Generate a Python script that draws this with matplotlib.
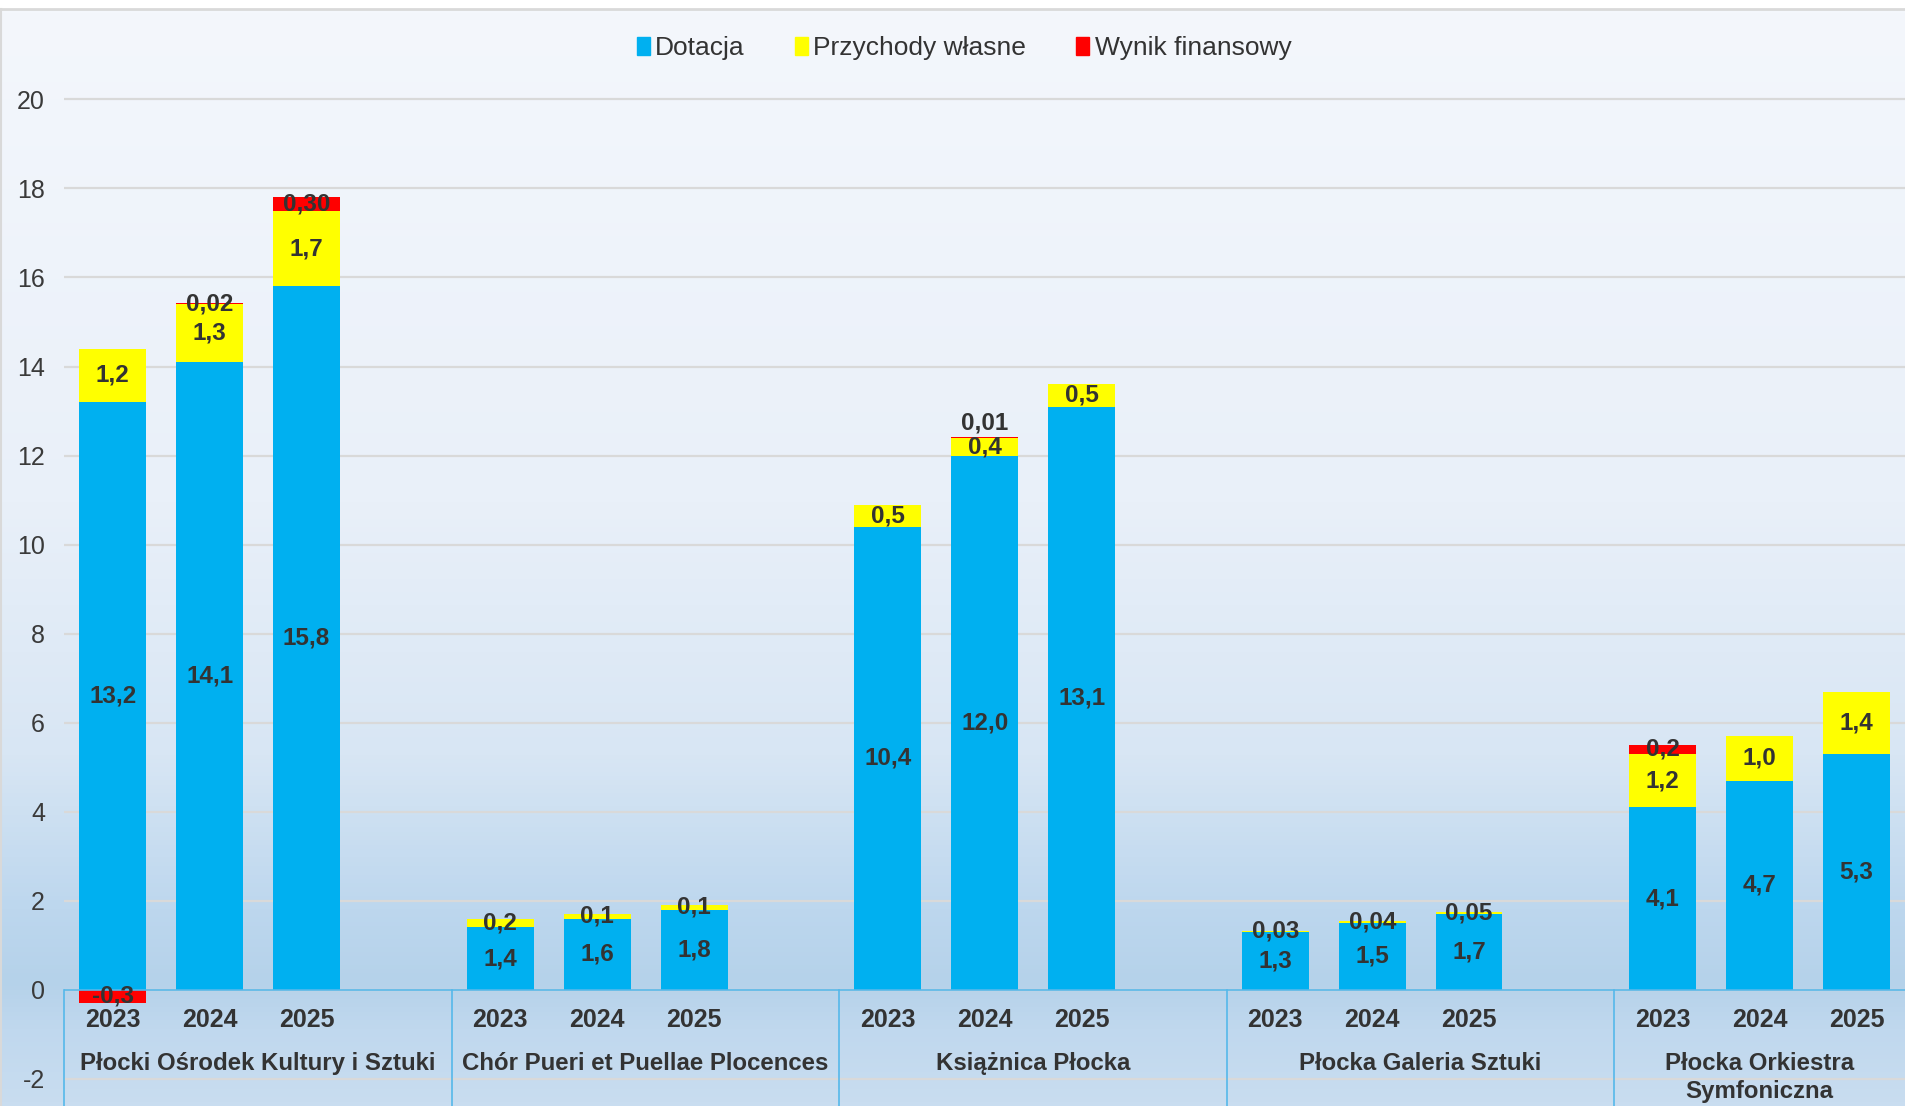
import numpy as np
import matplotlib
matplotlib.use("Agg")
import matplotlib.pyplot as plt
from matplotlib.patches import Patch
from matplotlib.colors import LinearSegmentedColormap

plt.rcParams['font.family'] = ['Liberation Sans', 'DejaVu Sans']
plt.rcParams['axes.unicode_minus'] = False

# data (mln zł)
groups = ["Płocki Ośrodek Kultury i Sztuki", "Chór Pueri et Puellae Plocences",
          "Książnica Płocka", "Płocka Galeria Sztuki", "Płocka Orkiestra\nSymfoniczna"]
years = ["2023", "2024", "2025"]
dotacja = [13.2, 14.1, 15.8, 1.4, 1.6, 1.8, 10.4, 12.0, 13.1, 1.3, 1.5, 1.7, 4.1, 4.7, 5.3]
przychody = [1.2, 1.3, 1.7, 0.2, 0.1, 0.1, 0.5, 0.4, 0.5, 0.03, 0.04, 0.05, 1.2, 1.0, 1.4]
wynik = [-0.3, 0.02, 0.30, 0, 0, 0, 0, 0.01, 0, 0, 0, 0, 0.2, 0, 0]
wynik_labels = ["-0,3", "0,02", "0,30", "", "", "", "", "0,01", "", "", "", "", "0,2", "", ""]
label_nudge = {7: 0.33}   # Excel pushed the tiny 0,01 label above the bar

C_BLUE, C_YEL, C_RED = "#00b0f0", "#ffff00", "#ff0000"
TXT = "#333333"
W, H = 1905, 1106


def fmt(v):
    return (f"{v:.2f}" if abs(v) < 0.1 else f"{v:.1f}").replace(".", ",")


fig = plt.figure(figsize=(W / 100, H / 100), dpi=100)
fig.patch.set_facecolor("white")

# gradient background
bg = fig.add_axes([0, 0, 1, 1 - 9 / H])
cmap = LinearSegmentedColormap.from_list("bg", [
    (0.0, "#f4f7fc"), (0.45, "#e9f0f9"), (0.68, "#d8e6f4"),
    (0.82, "#bdd7ee"), (0.89, "#b5d2ea"), (0.93, "#c0d8ee"), (1.0, "#c9ddf0")])
bg.imshow(np.linspace(0, 1, 256)[:, None], aspect="auto", cmap=cmap,
          extent=[0, 1, 0, 1], origin="upper")
bg.set_xlim(0, 1)
bg.set_ylim(0, 1)
bg.axis("off")
fig.add_artist(plt.Line2D([0, 1], [1 - 9 / H, 1 - 9 / H], color="#d9d9d9", lw=2))
fig.add_artist(plt.Line2D([0.5 / W, 0.5 / W], [0, 1 - 9 / H], color="#d9d9d9", lw=1.5))

ymin, ymax = -2.61, 20.2
unit = (990 - 99.6) / 20
ax_h = (ymax - ymin) * unit / H
left = 64.4 / W
ax = fig.add_axes([left, 0, 1 - left, ax_h])
ax.patch.set_alpha(0)

# 4 slots per group (3 bars + gap); the last group's gap is cut off by the plot edge
n_slots = 4 * len(groups) - 1
x = np.array([4 * g + i + 0.5 for g in range(len(groups)) for i in range(len(years))])
bw = 0.69

dot = np.array(dotacja)
prz = np.array(przychody)
wyn = np.array(wynik)
red_bottom = np.where(wyn >= 0, dot + prz, 0)

ax.bar(x, dot, bw, color=C_BLUE, zorder=3)
ax.bar(x, prz, bw, bottom=dot, color=C_YEL, zorder=3)
ax.bar(x, wyn, bw, bottom=red_bottom, color=C_RED, zorder=3)

lab_kw = dict(ha="center", va="center", fontsize=17.5, fontweight="bold", color=TXT, zorder=5)
for k in range(len(x)):
    ax.text(x[k], dot[k] / 2, fmt(dot[k]), **lab_kw)
    ax.text(x[k], dot[k] + prz[k] / 2, fmt(prz[k]), **lab_kw)
    if wynik_labels[k]:
        yc = red_bottom[k] + wyn[k] / 2 + label_nudge.get(k, 0)
        ax.text(x[k], yc, wynik_labels[k], **lab_kw)

ax.set_xlim(0, n_slots)
ax.set_ylim(ymin, ymax)
ax.set_yticks(np.arange(-2, 21, 2))
ax.yaxis.grid(True, color="#d9d9d9", lw=1.6, zorder=0)
ax.tick_params(axis="y", length=0, pad=14, labelsize=18, labelcolor="#3a3a3a")
ax.set_xticks([])
for s in ax.spines.values():
    s.set_visible(False)

# category axis
ax.axhline(0, color="#55b8ea", lw=1.2, zorder=4)
for g in range(len(groups)):
    g0 = 4 * g
    g1 = min(g0 + 4, n_slots)
    ax.plot([g0, g0], [ymin, 0], color="#55b8ea", lw=1.2, zorder=4, clip_on=False)
    for i, yr in enumerate(years):
        ax.text(g0 + i + 0.5, -0.68, yr, ha="center", va="center",
                fontsize=18, fontweight="bold", color=TXT, zorder=5)
    ax.text((g0 + g1) / 2, -1.40, groups[g], ha="center", va="top", fontsize=17.3,
            fontweight="bold", color=TXT, linespacing=1.25, zorder=5)

handles = [Patch(color=C_BLUE, label="Dotacja"),
           Patch(color=C_YEL, label="Przychody własne"),
           Patch(color=C_RED, label="Wynik finansowy")]
fig.legend(handles=handles, loc="center", bbox_to_anchor=(964 / W, 1 - 48 / H), ncol=3,
           frameon=False, fontsize=19, handlelength=0.5, handleheight=0.7,
           handletextpad=0.2, columnspacing=1.9, labelcolor="#333333")

fig.savefig("out.png", dpi=100)
